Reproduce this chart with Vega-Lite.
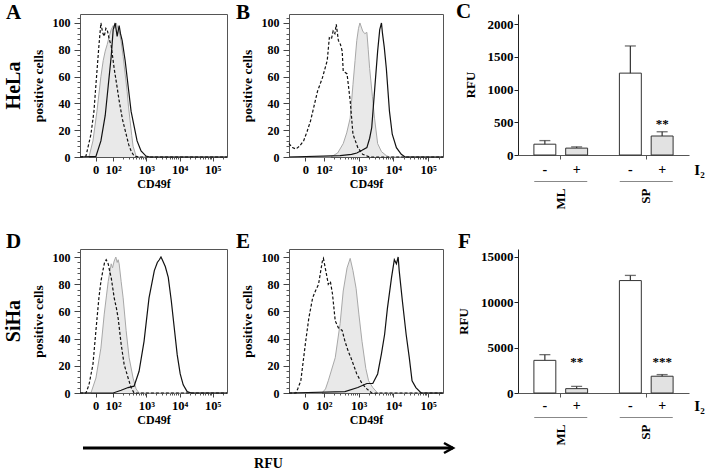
{
"$schema": "https://vega.github.io/schema/vega-lite/v6.json",
"background": "white",
"padding": {"left": 3, "top": 0, "right": 2, "bottom": 0},
"config": {
  "view": {"stroke": null},
  "font": "Liberation Serif",
  "axis": {"labelFont": "Liberation Serif", "titleFont": "Liberation Serif", "labelFontWeight": "bold", "titleFontWeight": "bold", "labelColor": "#000", "titleColor": "#000", "grid": false},
  "title": {"font": "Liberation Serif", "fontSize": 21, "fontWeight": "bold", "color": "#000"},
  "text": {"font": "Liberation Serif"}
},
"datasets": {
  "hela_ml": [
    {"series":"isotype","log_rfu":1.0,"pct":0},{"series":"isotype","log_rfu":1.18,"pct":0.7},{"series":"isotype","log_rfu":1.33,"pct":17},{"series":"isotype","log_rfu":1.42,"pct":34},{"series":"isotype","log_rfu":1.48,"pct":54},{"series":"isotype","log_rfu":1.57,"pct":83},{"series":"isotype","log_rfu":1.63,"pct":100},{"series":"isotype","log_rfu":1.68,"pct":93},{"series":"isotype","log_rfu":1.73,"pct":90},{"series":"isotype","log_rfu":1.78,"pct":96},{"series":"isotype","log_rfu":1.82,"pct":95},{"series":"isotype","log_rfu":1.88,"pct":88},{"series":"isotype","log_rfu":1.94,"pct":83},{"series":"isotype","log_rfu":2.03,"pct":66},{"series":"isotype","log_rfu":2.1,"pct":55},{"series":"isotype","log_rfu":2.18,"pct":42},{"series":"isotype","log_rfu":2.28,"pct":28},{"series":"isotype","log_rfu":2.39,"pct":17},{"series":"isotype","log_rfu":2.47,"pct":9},{"series":"isotype","log_rfu":2.54,"pct":4.5},{"series":"isotype","log_rfu":2.63,"pct":0.7},{"series":"isotype","log_rfu":2.8,"pct":0},{"series":"isotype","log_rfu":5.43,"pct":0},
    {"series":"iodine","log_rfu":1.0,"pct":0},{"series":"iodine","log_rfu":1.27,"pct":0},{"series":"iodine","log_rfu":1.39,"pct":12},{"series":"iodine","log_rfu":1.51,"pct":34},{"series":"iodine","log_rfu":1.63,"pct":60},{"series":"iodine","log_rfu":1.7,"pct":72},{"series":"iodine","log_rfu":1.76,"pct":79},{"series":"iodine","log_rfu":1.82,"pct":84},{"series":"iodine","log_rfu":1.88,"pct":90},{"series":"iodine","log_rfu":1.94,"pct":95},{"series":"iodine","log_rfu":2.0,"pct":98},{"series":"iodine","log_rfu":2.05,"pct":96},{"series":"iodine","log_rfu":2.09,"pct":100},{"series":"iodine","log_rfu":2.13,"pct":97},{"series":"iodine","log_rfu":2.18,"pct":94},{"series":"iodine","log_rfu":2.24,"pct":86},{"series":"iodine","log_rfu":2.3,"pct":75},{"series":"iodine","log_rfu":2.36,"pct":62},{"series":"iodine","log_rfu":2.42,"pct":49},{"series":"iodine","log_rfu":2.46,"pct":38},{"series":"iodine","log_rfu":2.51,"pct":27},{"series":"iodine","log_rfu":2.56,"pct":16},{"series":"iodine","log_rfu":2.6,"pct":8},{"series":"iodine","log_rfu":2.69,"pct":0.7},{"series":"iodine","log_rfu":2.8,"pct":0},{"series":"iodine","log_rfu":5.43,"pct":0},
    {"series":"untreated","log_rfu":1.0,"pct":0},{"series":"untreated","log_rfu":1.48,"pct":0.5},{"series":"untreated","log_rfu":1.63,"pct":12},{"series":"untreated","log_rfu":1.76,"pct":31},{"series":"untreated","log_rfu":1.85,"pct":53},{"series":"untreated","log_rfu":1.94,"pct":75},{"series":"untreated","log_rfu":2.0,"pct":95},{"series":"untreated","log_rfu":2.06,"pct":100},{"series":"untreated","log_rfu":2.12,"pct":90},{"series":"untreated","log_rfu":2.18,"pct":98},{"series":"untreated","log_rfu":2.22,"pct":92},{"series":"untreated","log_rfu":2.27,"pct":87},{"series":"untreated","log_rfu":2.36,"pct":72},{"series":"untreated","log_rfu":2.45,"pct":53},{"series":"untreated","log_rfu":2.54,"pct":34},{"series":"untreated","log_rfu":2.63,"pct":23},{"series":"untreated","log_rfu":2.72,"pct":12},{"series":"untreated","log_rfu":2.84,"pct":4.5},{"series":"untreated","log_rfu":2.99,"pct":0.7},{"series":"untreated","log_rfu":3.1,"pct":0},{"series":"untreated","log_rfu":5.43,"pct":0}
  ],
  "hela_sp": [
    {"series":"isotype","log_rfu":1.0,"pct":10},{"series":"isotype","log_rfu":1.1,"pct":7},{"series":"isotype","log_rfu":1.2,"pct":6},{"series":"isotype","log_rfu":1.3,"pct":8},{"series":"isotype","log_rfu":1.42,"pct":12},{"series":"isotype","log_rfu":1.52,"pct":19},{"series":"isotype","log_rfu":1.62,"pct":27},{"series":"isotype","log_rfu":1.72,"pct":38},{"series":"isotype","log_rfu":1.82,"pct":49},{"series":"isotype","log_rfu":1.96,"pct":59},{"series":"isotype","log_rfu":2.1,"pct":72},{"series":"isotype","log_rfu":2.16,"pct":89},{"series":"isotype","log_rfu":2.22,"pct":88},{"series":"isotype","log_rfu":2.27,"pct":94},{"series":"isotype","log_rfu":2.32,"pct":92},{"series":"isotype","log_rfu":2.36,"pct":99},{"series":"isotype","log_rfu":2.42,"pct":87},{"series":"isotype","log_rfu":2.48,"pct":84},{"series":"isotype","log_rfu":2.53,"pct":79},{"series":"isotype","log_rfu":2.56,"pct":64},{"series":"isotype","log_rfu":2.62,"pct":63},{"series":"isotype","log_rfu":2.67,"pct":62},{"series":"isotype","log_rfu":2.76,"pct":42},{"series":"isotype","log_rfu":2.84,"pct":17},{"series":"isotype","log_rfu":2.98,"pct":7},{"series":"isotype","log_rfu":3.12,"pct":2},{"series":"isotype","log_rfu":3.32,"pct":0},{"series":"isotype","log_rfu":5.43,"pct":0},
    {"series":"iodine","log_rfu":1.0,"pct":0},{"series":"iodine","log_rfu":2.2,"pct":0},{"series":"iodine","log_rfu":2.27,"pct":1},{"series":"iodine","log_rfu":2.4,"pct":3},{"series":"iodine","log_rfu":2.56,"pct":10},{"series":"iodine","log_rfu":2.66,"pct":18},{"series":"iodine","log_rfu":2.76,"pct":29},{"series":"iodine","log_rfu":2.84,"pct":54},{"series":"iodine","log_rfu":2.9,"pct":72},{"series":"iodine","log_rfu":2.95,"pct":87},{"series":"iodine","log_rfu":3.0,"pct":96},{"series":"iodine","log_rfu":3.04,"pct":100},{"series":"iodine","log_rfu":3.08,"pct":97},{"series":"iodine","log_rfu":3.12,"pct":94},{"series":"iodine","log_rfu":3.18,"pct":92},{"series":"iodine","log_rfu":3.24,"pct":93},{"series":"iodine","log_rfu":3.28,"pct":80},{"series":"iodine","log_rfu":3.32,"pct":66},{"series":"iodine","log_rfu":3.4,"pct":45},{"series":"iodine","log_rfu":3.46,"pct":29},{"series":"iodine","log_rfu":3.55,"pct":10},{"series":"iodine","log_rfu":3.66,"pct":4},{"series":"iodine","log_rfu":3.8,"pct":1},{"series":"iodine","log_rfu":3.89,"pct":0},{"series":"iodine","log_rfu":5.43,"pct":0},
    {"series":"untreated","log_rfu":1.0,"pct":0},{"series":"untreated","log_rfu":2.47,"pct":1},{"series":"untreated","log_rfu":2.8,"pct":2},{"series":"untreated","log_rfu":2.95,"pct":3},{"series":"untreated","log_rfu":3.1,"pct":5},{"series":"untreated","log_rfu":3.24,"pct":7},{"series":"untreated","log_rfu":3.32,"pct":14},{"series":"untreated","log_rfu":3.38,"pct":22},{"series":"untreated","log_rfu":3.46,"pct":49},{"series":"untreated","log_rfu":3.55,"pct":79},{"series":"untreated","log_rfu":3.61,"pct":95},{"series":"untreated","log_rfu":3.64,"pct":98},{"series":"untreated","log_rfu":3.66,"pct":100},{"series":"untreated","log_rfu":3.69,"pct":92},{"series":"untreated","log_rfu":3.74,"pct":82},{"series":"untreated","log_rfu":3.8,"pct":66},{"series":"untreated","log_rfu":3.89,"pct":34},{"series":"untreated","log_rfu":3.97,"pct":17},{"series":"untreated","log_rfu":4.09,"pct":7},{"series":"untreated","log_rfu":4.23,"pct":2},{"series":"untreated","log_rfu":4.34,"pct":0},{"series":"untreated","log_rfu":5.43,"pct":0}
  ],
  "siha_ml": [
    {"series":"isotype","log_rfu":1.0,"pct":0},{"series":"isotype","log_rfu":1.18,"pct":0},{"series":"isotype","log_rfu":1.27,"pct":6},{"series":"isotype","log_rfu":1.39,"pct":21},{"series":"isotype","log_rfu":1.48,"pct":46},{"series":"isotype","log_rfu":1.57,"pct":70},{"series":"isotype","log_rfu":1.63,"pct":82},{"series":"isotype","log_rfu":1.69,"pct":90},{"series":"isotype","log_rfu":1.74,"pct":96},{"series":"isotype","log_rfu":1.79,"pct":98},{"series":"isotype","log_rfu":1.85,"pct":95},{"series":"isotype","log_rfu":1.9,"pct":89},{"series":"isotype","log_rfu":1.94,"pct":85},{"series":"isotype","log_rfu":2.03,"pct":70},{"series":"isotype","log_rfu":2.1,"pct":62},{"series":"isotype","log_rfu":2.15,"pct":55},{"series":"isotype","log_rfu":2.24,"pct":36},{"series":"isotype","log_rfu":2.33,"pct":21},{"series":"isotype","log_rfu":2.45,"pct":11},{"series":"isotype","log_rfu":2.54,"pct":4},{"series":"isotype","log_rfu":2.63,"pct":0},{"series":"isotype","log_rfu":5.43,"pct":0},
    {"series":"iodine","log_rfu":1.0,"pct":0},{"series":"iodine","log_rfu":1.33,"pct":0},{"series":"iodine","log_rfu":1.48,"pct":11},{"series":"iodine","log_rfu":1.63,"pct":33},{"series":"iodine","log_rfu":1.73,"pct":58},{"series":"iodine","log_rfu":1.8,"pct":72},{"series":"iodine","log_rfu":1.85,"pct":82},{"series":"iodine","log_rfu":1.94,"pct":95},{"series":"iodine","log_rfu":1.98,"pct":92},{"series":"iodine","log_rfu":2.03,"pct":97},{"series":"iodine","log_rfu":2.08,"pct":100},{"series":"iodine","log_rfu":2.12,"pct":96},{"series":"iodine","log_rfu":2.15,"pct":98},{"series":"iodine","log_rfu":2.18,"pct":95},{"series":"iodine","log_rfu":2.24,"pct":82},{"series":"iodine","log_rfu":2.3,"pct":70},{"series":"iodine","log_rfu":2.39,"pct":46},{"series":"iodine","log_rfu":2.48,"pct":26},{"series":"iodine","log_rfu":2.6,"pct":11},{"series":"iodine","log_rfu":2.69,"pct":3},{"series":"iodine","log_rfu":2.78,"pct":0},{"series":"iodine","log_rfu":5.43,"pct":0},
    {"series":"untreated","log_rfu":1.0,"pct":0},{"series":"untreated","log_rfu":2.0,"pct":0},{"series":"untreated","log_rfu":2.24,"pct":2},{"series":"untreated","log_rfu":2.45,"pct":4},{"series":"untreated","log_rfu":2.63,"pct":5},{"series":"untreated","log_rfu":2.78,"pct":16},{"series":"untreated","log_rfu":2.93,"pct":38},{"series":"untreated","log_rfu":3.08,"pct":70},{"series":"untreated","log_rfu":3.24,"pct":90},{"series":"untreated","log_rfu":3.33,"pct":96},{"series":"untreated","log_rfu":3.39,"pct":98},{"series":"untreated","log_rfu":3.44,"pct":100},{"series":"untreated","log_rfu":3.48,"pct":98},{"series":"untreated","log_rfu":3.57,"pct":93},{"series":"untreated","log_rfu":3.66,"pct":85},{"series":"untreated","log_rfu":3.75,"pct":68},{"series":"untreated","log_rfu":3.84,"pct":48},{"series":"untreated","log_rfu":3.93,"pct":28},{"series":"untreated","log_rfu":4.02,"pct":14},{"series":"untreated","log_rfu":4.11,"pct":6},{"series":"untreated","log_rfu":4.23,"pct":1},{"series":"untreated","log_rfu":4.35,"pct":0},{"series":"untreated","log_rfu":5.43,"pct":0}
  ],
  "siha_sp": [
    {"series":"isotype","log_rfu":1.0,"pct":0},{"series":"isotype","log_rfu":1.2,"pct":0},{"series":"isotype","log_rfu":1.25,"pct":3},{"series":"isotype","log_rfu":1.34,"pct":9},{"series":"isotype","log_rfu":1.48,"pct":38},{"series":"isotype","log_rfu":1.57,"pct":55},{"series":"isotype","log_rfu":1.68,"pct":70},{"series":"isotype","log_rfu":1.76,"pct":75},{"series":"isotype","log_rfu":1.85,"pct":80},{"series":"isotype","log_rfu":1.96,"pct":97},{"series":"isotype","log_rfu":1.99,"pct":99},{"series":"isotype","log_rfu":2.08,"pct":87},{"series":"isotype","log_rfu":2.13,"pct":80},{"series":"isotype","log_rfu":2.19,"pct":82},{"series":"isotype","log_rfu":2.25,"pct":73},{"series":"isotype","log_rfu":2.33,"pct":53},{"series":"isotype","log_rfu":2.42,"pct":48},{"series":"isotype","log_rfu":2.53,"pct":46},{"series":"isotype","log_rfu":2.61,"pct":38},{"series":"isotype","log_rfu":2.7,"pct":31},{"series":"isotype","log_rfu":2.81,"pct":24},{"series":"isotype","log_rfu":2.95,"pct":14},{"series":"isotype","log_rfu":3.1,"pct":7},{"series":"isotype","log_rfu":3.24,"pct":3},{"series":"isotype","log_rfu":3.38,"pct":0},{"series":"isotype","log_rfu":5.43,"pct":0},
    {"series":"iodine","log_rfu":1.0,"pct":0},{"series":"iodine","log_rfu":1.95,"pct":0},{"series":"iodine","log_rfu":2.05,"pct":3},{"series":"iodine","log_rfu":2.13,"pct":9},{"series":"iodine","log_rfu":2.33,"pct":26},{"series":"iodine","log_rfu":2.47,"pct":51},{"series":"iodine","log_rfu":2.56,"pct":75},{"series":"iodine","log_rfu":2.67,"pct":92},{"series":"iodine","log_rfu":2.76,"pct":99},{"series":"iodine","log_rfu":2.84,"pct":90},{"series":"iodine","log_rfu":2.93,"pct":77},{"series":"iodine","log_rfu":3.01,"pct":58},{"series":"iodine","log_rfu":3.1,"pct":38},{"series":"iodine","log_rfu":3.21,"pct":18},{"series":"iodine","log_rfu":3.29,"pct":9},{"series":"iodine","log_rfu":3.41,"pct":4},{"series":"iodine","log_rfu":3.55,"pct":0},{"series":"iodine","log_rfu":5.43,"pct":0},
    {"series":"untreated","log_rfu":1.0,"pct":0},{"series":"untreated","log_rfu":2.61,"pct":1},{"series":"untreated","log_rfu":2.98,"pct":4},{"series":"untreated","log_rfu":3.24,"pct":7},{"series":"untreated","log_rfu":3.41,"pct":7},{"series":"untreated","log_rfu":3.55,"pct":14},{"series":"untreated","log_rfu":3.66,"pct":29},{"series":"untreated","log_rfu":3.75,"pct":43},{"series":"untreated","log_rfu":3.83,"pct":62},{"series":"untreated","log_rfu":3.95,"pct":85},{"series":"untreated","log_rfu":4.03,"pct":98},{"series":"untreated","log_rfu":4.09,"pct":95},{"series":"untreated","log_rfu":4.14,"pct":100},{"series":"untreated","log_rfu":4.17,"pct":90},{"series":"untreated","log_rfu":4.26,"pct":68},{"series":"untreated","log_rfu":4.37,"pct":43},{"series":"untreated","log_rfu":4.46,"pct":26},{"series":"untreated","log_rfu":4.54,"pct":9},{"series":"untreated","log_rfu":4.65,"pct":4},{"series":"untreated","log_rfu":4.8,"pct":0},{"series":"untreated","log_rfu":5.43,"pct":0}
  ],
  "bars_hela": [
    {"group":"ML","treat":"-","rfu":165,"upper":220,"sig":""},
    {"group":"ML","treat":"+","rfu":105,"upper":125,"sig":""},
    {"group":"SP","treat":"-","rfu":1250,"upper":1665,"sig":""},
    {"group":"SP","treat":"+","rfu":290,"upper":355,"sig":"**"}
  ],
  "bars_siha": [
    {"group":"ML","treat":"-","rfu":3600,"upper":4230,"sig":""},
    {"group":"ML","treat":"+","rfu":480,"upper":730,"sig":"**"},
    {"group":"SP","treat":"-","rfu":12400,"upper":12970,"sig":""},
    {"group":"SP","treat":"+","rfu":1850,"upper":2030,"sig":"***"}
  ]
},
"columns": 4,
"bounds": "flush",
"spacing": {"row": 24, "column": 62},
"concat": [
  {"width": 9, "height": 143, "data": {"values": [{"cell_line": "HeLa"}]}, "mark": {"type": "text", "angle": 270, "fontSize": 20, "fontWeight": "bold", "baseline": "middle", "align": "center", "color": "#000"}, "encoding": {"text": {"field": "cell_line"}}},
  {
    "width": 147, "height": 143,
    "view": {"stroke": "#555", "strokeWidth": 1},
    "title": {"text": "A", "anchor": "start", "frame": "group", "dx": -74, "offset": -8.9},
    "data": {"name": "hela_ml"},
    "encoding": {
      "x": {"field": "log_rfu", "type": "quantitative", "scale": {"domain": [1.0, 5.43], "nice": false, "zero": false}, "axis": {"values": [1.47, 2, 3, 4, 5], "labelExpr": "datum.value < 1.9 ? '0' : datum.value < 2.5 ? '10²' : datum.value < 3.5 ? '10³' : datum.value < 4.5 ? '10⁴' : '10⁵'", "title": "CD49f", "domain": false, "tickSize": 4, "tickColor": "#444", "labelPadding": 2, "labelFontSize": 12.5, "titleFontSize": 12, "titlePadding": 3, "labelOverlap": false, "labelBound": false}},
      "y": {"field": "pct", "type": "quantitative", "scale": {"domain": [0, 106.7], "nice": false}, "axis": {"values": [0, 20, 40, 60, 80, 100], "title": "positive cells", "domain": false, "tickSize": 6, "tickColor": "#444", "labelPadding": 4, "labelFontSize": 12, "titleFontSize": 13.5, "titlePadding": 7}}
    },
    "layer": [
      {"transform": [{"filter": "datum.series == 'iodine'"}], "mark": {"type": "area", "color": "#e0e0e0", "line": {"color": "#a8a8a8", "strokeWidth": 1}}},
      {"transform": [{"filter": "datum.series == 'isotype'"}], "mark": {"type": "line", "color": "#111", "strokeWidth": 1.2, "strokeDash": [3, 2]},
       "encoding": {"x": {"field": "log_rfu", "type": "quantitative", "scale": {"domain": [1.0, 5.43], "nice": false, "zero": false}, "axis": {"orient": "bottom", "values": [2.301,2.477,2.602,2.699,2.778,2.845,2.903,2.954,3.301,3.477,3.602,3.699,3.778,3.845,3.903,3.954,4.301,4.477,4.602,4.699,4.778,4.845,4.903,4.954,5.301], "labels": false, "title": null, "domain": false, "tickSize": 2, "tickColor": "#555"}},
                    "y": {"field": "pct", "type": "quantitative", "scale": {"domain": [0, 106.7], "nice": false}, "axis": {"orient": "left", "values": [4,8,12,16,24,28,32,36,44,48,52,56,64,68,72,76,84,88,92,96,104], "labels": false, "title": null, "domain": false, "tickSize": 3, "tickColor": "#555"}}}},
      {"transform": [{"filter": "datum.series == 'untreated'"}], "mark": {"type": "line", "color": "#111", "strokeWidth": 1.2},
       "encoding": {"x": {"field": "log_rfu", "type": "quantitative", "axis": null}, "y": {"field": "pct", "type": "quantitative", "axis": null}}}
    ],
    "resolve": {"axis": {"x": "independent", "y": "independent"}}
  },
  {
    "width": 154, "height": 143,
    "view": {"stroke": "#555", "strokeWidth": 1},
    "title": {"text": "B", "anchor": "start", "frame": "group", "dx": -53, "offset": -8.9},
    "data": {"name": "hela_sp"},
    "encoding": {
      "x": {"field": "log_rfu", "type": "quantitative", "scale": {"domain": [1.0, 5.43], "nice": false, "zero": false}, "axis": {"values": [1.47, 2, 3, 4, 5], "labelExpr": "datum.value < 1.9 ? '0' : datum.value < 2.5 ? '10²' : datum.value < 3.5 ? '10³' : datum.value < 4.5 ? '10⁴' : '10⁵'", "title": "CD49f", "domain": false, "tickSize": 4, "tickColor": "#444", "labelPadding": 2, "labelFontSize": 12.5, "titleFontSize": 12, "titlePadding": 3, "labelOverlap": false, "labelBound": false}},
      "y": {"field": "pct", "type": "quantitative", "scale": {"domain": [0, 106.7], "nice": false}, "axis": {"values": [0, 20, 40, 60, 80, 100], "title": "positive cells", "domain": false, "tickSize": 6, "tickColor": "#444", "labelPadding": 4, "labelFontSize": 12, "titleFontSize": 13.5, "titlePadding": 7}}
    },
    "layer": [
      {"transform": [{"filter": "datum.series == 'iodine'"}], "mark": {"type": "area", "color": "#e0e0e0", "line": {"color": "#a8a8a8", "strokeWidth": 1}}},
      {"transform": [{"filter": "datum.series == 'isotype'"}], "mark": {"type": "line", "color": "#111", "strokeWidth": 1.2, "strokeDash": [3, 2]},
       "encoding": {"x": {"field": "log_rfu", "type": "quantitative", "scale": {"domain": [1.0, 5.43], "nice": false, "zero": false}, "axis": {"orient": "bottom", "values": [2.301,2.477,2.602,2.699,2.778,2.845,2.903,2.954,3.301,3.477,3.602,3.699,3.778,3.845,3.903,3.954,4.301,4.477,4.602,4.699,4.778,4.845,4.903,4.954,5.301], "labels": false, "title": null, "domain": false, "tickSize": 2, "tickColor": "#555"}},
                    "y": {"field": "pct", "type": "quantitative", "scale": {"domain": [0, 106.7], "nice": false}, "axis": {"orient": "left", "values": [4,8,12,16,24,28,32,36,44,48,52,56,64,68,72,76,84,88,92,96,104], "labels": false, "title": null, "domain": false, "tickSize": 3, "tickColor": "#555"}}}},
      {"transform": [{"filter": "datum.series == 'untreated'"}], "mark": {"type": "line", "color": "#111", "strokeWidth": 1.2},
       "encoding": {"x": {"field": "log_rfu", "type": "quantitative", "axis": null}, "y": {"field": "pct", "type": "quantitative", "axis": null}}}
    ],
    "resolve": {"axis": {"x": "independent", "y": "independent"}}
  },
  {
    "width": 171, "height": 141,
    "title": {"text": "C", "anchor": "start", "frame": "group", "dx": -62, "offset": -7.9},
    "data": {"name": "bars_hela"},
    "encoding": {
      "x": {"field": "group", "type": "nominal", "sort": ["ML", "SP"], "scale": {"paddingInner": 0, "paddingOuter": 0}, "axis": {"labels": false, "title": null, "domainColor": "#555", "tickColor": "#555", "tickSize": 4}},
      "xOffset": {"field": "treat", "type": "nominal", "sort": ["-", "+"], "scale": {"paddingInner": 0.31, "paddingOuter": 0.5}}
    },
    "layer": [
      {"mark": {"type": "bar", "stroke": "#333", "strokeWidth": 1}, "encoding": {"y": {"field": "rfu", "type": "quantitative", "title": "RFU", "scale": {"domain": [0, 2153], "nice": false}, "axis": {"values": [0, 500, 1000, 1500, 2000], "format": "d", "labelOverlap": false, "domainColor": "#222", "tickColor": "#222", "tickSize": 4, "labelPadding": 1, "titlePadding": 10, "labelFontSize": 13, "titleFontSize": 13}}, "color": {"field": "treat", "type": "nominal", "scale": {"domain": ["-", "+"], "range": ["#ffffff", "#e2e2e2"]}, "legend": null}}},
      {"mark": {"type": "rule", "color": "#333", "strokeWidth": 1.2}, "encoding": {"y": {"field": "rfu", "type": "quantitative", "title": "RFU", "scale": {"domain": [0, 2153], "nice": false}, "axis": {"values": [0, 500, 1000, 1500, 2000], "format": "d", "labelOverlap": false, "domainColor": "#222", "tickColor": "#222", "tickSize": 4, "labelPadding": 1, "titlePadding": 10, "labelFontSize": 13, "titleFontSize": 13}}, "y2": {"field": "upper"}}},
      {"mark": {"type": "tick", "orient": "horizontal", "size": 11, "thickness": 1.3, "color": "#333"}, "encoding": {"y": {"field": "upper", "type": "quantitative", "title": "RFU", "scale": {"domain": [0, 2153], "nice": false}, "axis": {"values": [0, 500, 1000, 1500, 2000], "format": "d", "labelOverlap": false, "domainColor": "#222", "tickColor": "#222", "tickSize": 4, "labelPadding": 1, "titlePadding": 10, "labelFontSize": 13, "titleFontSize": 13}}}},
      {"transform": [{"filter": "datum.treat == '+'"}, {"joinaggregate": [{"op": "max", "field": "upper", "as": "star_base"}]}, {"filter": "datum.sig != ''"}], "mark": {"type": "text", "fontSize": 13, "fontWeight": "bold", "baseline": "alphabetic", "dy": -4, "color": "#000"}, "encoding": {"y": {"field": "star_base", "type": "quantitative", "title": "RFU", "scale": {"domain": [0, 2153], "nice": false}, "axis": {"values": [0, 500, 1000, 1500, 2000], "format": "d", "labelOverlap": false, "domainColor": "#222", "tickColor": "#222", "tickSize": 4, "labelPadding": 1, "titlePadding": 10, "labelFontSize": 13, "titleFontSize": 13}}, "text": {"field": "sig"}}}
    ]
  },
  {"width": 9, "height": 44, "data": {"values": []}, "mark": "point", "encoding": {}},
  {"width": 1, "height": 1, "data": {"values": []}, "mark": "point", "encoding": {}},
  {"width": 167, "height": 1, "data": {"values": []}, "mark": "point", "encoding": {}},
  {
    "width": 171, "height": 1,
    "title": {"text": "I₂", "orient": "right", "angle": 0, "align": "left", "baseline": "middle", "anchor": "middle", "frame": "group", "offset": -5, "dy": -12, "fontSize": 15},
    "data": {"name": "bars_hela"},
    "encoding": {
      "x": {"field": "group", "type": "nominal", "sort": ["ML", "SP"], "scale": {"paddingInner": 0, "paddingOuter": 0}, "axis": {"title": null, "domain": false, "ticks": false, "labelAngle": 270, "labelPadding": 6, "labelFontSize": 13}}
    },
    "layer": [
      {"transform": [{"filter": "datum.treat == '-'"}], "mark": {"type": "bar", "color": "#888", "width": {"band": 0.62}}},
      {"mark": {"type": "text", "fontSize": 14, "fontWeight": "bold", "dy": -12, "baseline": "middle", "color": "#000"}, "encoding": {"xOffset": {"field": "treat", "type": "nominal", "sort": ["-", "+"], "scale": {"paddingInner": 0.31, "paddingOuter": 0.5}}, "text": {"field": "treat"}}}
    ]
  },
  {"width": 9, "height": 144, "data": {"values": [{"cell_line": "SiHa"}]}, "mark": {"type": "text", "angle": 270, "fontSize": 20, "fontWeight": "bold", "baseline": "middle", "align": "center", "color": "#000"}, "encoding": {"text": {"field": "cell_line"}}},
  {
    "width": 147, "height": 144,
    "view": {"stroke": "#555", "strokeWidth": 1},
    "title": {"text": "D", "anchor": "start", "frame": "group", "dx": -74, "offset": -3.4},
    "data": {"name": "siha_ml"},
    "encoding": {
      "x": {"field": "log_rfu", "type": "quantitative", "scale": {"domain": [1.0, 5.43], "nice": false, "zero": false}, "axis": {"values": [1.47, 2, 3, 4, 5], "labelExpr": "datum.value < 1.9 ? '0' : datum.value < 2.5 ? '10²' : datum.value < 3.5 ? '10³' : datum.value < 4.5 ? '10⁴' : '10⁵'", "title": "CD49f", "domain": false, "tickSize": 4, "tickColor": "#444", "labelPadding": 2, "labelFontSize": 12.5, "titleFontSize": 12, "titlePadding": 3, "labelOverlap": false, "labelBound": false}},
      "y": {"field": "pct", "type": "quantitative", "scale": {"domain": [0, 105.9], "nice": false}, "axis": {"values": [0, 20, 40, 60, 80, 100], "title": "positive cells", "domain": false, "tickSize": 6, "tickColor": "#444", "labelPadding": 4, "labelFontSize": 12, "titleFontSize": 13.5, "titlePadding": 7}}
    },
    "layer": [
      {"transform": [{"filter": "datum.series == 'iodine'"}], "mark": {"type": "area", "color": "#e0e0e0", "line": {"color": "#a8a8a8", "strokeWidth": 1}}},
      {"transform": [{"filter": "datum.series == 'isotype'"}], "mark": {"type": "line", "color": "#111", "strokeWidth": 1.2, "strokeDash": [3, 2]},
       "encoding": {"x": {"field": "log_rfu", "type": "quantitative", "scale": {"domain": [1.0, 5.43], "nice": false, "zero": false}, "axis": {"orient": "bottom", "values": [2.301,2.477,2.602,2.699,2.778,2.845,2.903,2.954,3.301,3.477,3.602,3.699,3.778,3.845,3.903,3.954,4.301,4.477,4.602,4.699,4.778,4.845,4.903,4.954,5.301], "labels": false, "title": null, "domain": false, "tickSize": 2, "tickColor": "#555"}},
                    "y": {"field": "pct", "type": "quantitative", "scale": {"domain": [0, 105.9], "nice": false}, "axis": {"orient": "left", "values": [4,8,12,16,24,28,32,36,44,48,52,56,64,68,72,76,84,88,92,96,104], "labels": false, "title": null, "domain": false, "tickSize": 3, "tickColor": "#555"}}}},
      {"transform": [{"filter": "datum.series == 'untreated'"}], "mark": {"type": "line", "color": "#111", "strokeWidth": 1.2},
       "encoding": {"x": {"field": "log_rfu", "type": "quantitative", "axis": null}, "y": {"field": "pct", "type": "quantitative", "axis": null}}}
    ],
    "resolve": {"axis": {"x": "independent", "y": "independent"}}
  },
  {
    "width": 154, "height": 144,
    "view": {"stroke": "#555", "strokeWidth": 1},
    "title": {"text": "E", "anchor": "start", "frame": "group", "dx": -53, "offset": -3.4},
    "data": {"name": "siha_sp"},
    "encoding": {
      "x": {"field": "log_rfu", "type": "quantitative", "scale": {"domain": [1.0, 5.43], "nice": false, "zero": false}, "axis": {"values": [1.47, 2, 3, 4, 5], "labelExpr": "datum.value < 1.9 ? '0' : datum.value < 2.5 ? '10²' : datum.value < 3.5 ? '10³' : datum.value < 4.5 ? '10⁴' : '10⁵'", "title": "CD49f", "domain": false, "tickSize": 4, "tickColor": "#444", "labelPadding": 2, "labelFontSize": 12.5, "titleFontSize": 12, "titlePadding": 3, "labelOverlap": false, "labelBound": false}},
      "y": {"field": "pct", "type": "quantitative", "scale": {"domain": [0, 105.9], "nice": false}, "axis": {"values": [0, 20, 40, 60, 80, 100], "title": "positive cells", "domain": false, "tickSize": 6, "tickColor": "#444", "labelPadding": 4, "labelFontSize": 12, "titleFontSize": 13.5, "titlePadding": 7}}
    },
    "layer": [
      {"transform": [{"filter": "datum.series == 'iodine'"}], "mark": {"type": "area", "color": "#e0e0e0", "line": {"color": "#a8a8a8", "strokeWidth": 1}}},
      {"transform": [{"filter": "datum.series == 'isotype'"}], "mark": {"type": "line", "color": "#111", "strokeWidth": 1.2, "strokeDash": [3, 2]},
       "encoding": {"x": {"field": "log_rfu", "type": "quantitative", "scale": {"domain": [1.0, 5.43], "nice": false, "zero": false}, "axis": {"orient": "bottom", "values": [2.301,2.477,2.602,2.699,2.778,2.845,2.903,2.954,3.301,3.477,3.602,3.699,3.778,3.845,3.903,3.954,4.301,4.477,4.602,4.699,4.778,4.845,4.903,4.954,5.301], "labels": false, "title": null, "domain": false, "tickSize": 2, "tickColor": "#555"}},
                    "y": {"field": "pct", "type": "quantitative", "scale": {"domain": [0, 105.9], "nice": false}, "axis": {"orient": "left", "values": [4,8,12,16,24,28,32,36,44,48,52,56,64,68,72,76,84,88,92,96,104], "labels": false, "title": null, "domain": false, "tickSize": 3, "tickColor": "#555"}}}},
      {"transform": [{"filter": "datum.series == 'untreated'"}], "mark": {"type": "line", "color": "#111", "strokeWidth": 1.2},
       "encoding": {"x": {"field": "log_rfu", "type": "quantitative", "axis": null}, "y": {"field": "pct", "type": "quantitative", "axis": null}}}
    ],
    "resolve": {"axis": {"x": "independent", "y": "independent"}}
  },
  {
    "width": 171, "height": 144,
    "title": {"text": "F", "anchor": "start", "frame": "group", "dx": -60, "offset": -3.4},
    "data": {"name": "bars_siha"},
    "encoding": {
      "x": {"field": "group", "type": "nominal", "sort": ["ML", "SP"], "scale": {"paddingInner": 0, "paddingOuter": 0}, "axis": {"labels": false, "title": null, "domainColor": "#555", "tickColor": "#555", "tickSize": 4}},
      "xOffset": {"field": "treat", "type": "nominal", "sort": ["-", "+"], "scale": {"paddingInner": 0.31, "paddingOuter": 0.5}}
    },
    "layer": [
      {"mark": {"type": "bar", "stroke": "#333", "strokeWidth": 1}, "encoding": {"y": {"field": "rfu", "type": "quantitative", "title": "RFU", "scale": {"domain": [0, 15882], "nice": false}, "axis": {"values": [0, 5000, 10000, 15000], "format": "d", "labelOverlap": false, "domainColor": "#222", "tickColor": "#222", "tickSize": 4, "labelPadding": 1, "titlePadding": 10, "labelFontSize": 13, "titleFontSize": 13}}, "color": {"field": "treat", "type": "nominal", "scale": {"domain": ["-", "+"], "range": ["#ffffff", "#e2e2e2"]}, "legend": null}}},
      {"mark": {"type": "rule", "color": "#333", "strokeWidth": 1.2}, "encoding": {"y": {"field": "rfu", "type": "quantitative", "title": "RFU", "scale": {"domain": [0, 15882], "nice": false}, "axis": {"values": [0, 5000, 10000, 15000], "format": "d", "labelOverlap": false, "domainColor": "#222", "tickColor": "#222", "tickSize": 4, "labelPadding": 1, "titlePadding": 10, "labelFontSize": 13, "titleFontSize": 13}}, "y2": {"field": "upper"}}},
      {"mark": {"type": "tick", "orient": "horizontal", "size": 11, "thickness": 1.3, "color": "#333"}, "encoding": {"y": {"field": "upper", "type": "quantitative", "title": "RFU", "scale": {"domain": [0, 15882], "nice": false}, "axis": {"values": [0, 5000, 10000, 15000], "format": "d", "labelOverlap": false, "domainColor": "#222", "tickColor": "#222", "tickSize": 4, "labelPadding": 1, "titlePadding": 10, "labelFontSize": 13, "titleFontSize": 13}}}},
      {"transform": [{"filter": "datum.treat == '+'"}, {"joinaggregate": [{"op": "max", "field": "upper", "as": "star_base"}]}, {"filter": "datum.sig != ''"}], "mark": {"type": "text", "fontSize": 13, "fontWeight": "bold", "baseline": "alphabetic", "dy": -9, "color": "#000"}, "encoding": {"y": {"field": "star_base", "type": "quantitative", "title": "RFU", "scale": {"domain": [0, 15882], "nice": false}, "axis": {"values": [0, 5000, 10000, 15000], "format": "d", "labelOverlap": false, "domainColor": "#222", "tickColor": "#222", "tickSize": 4, "labelPadding": 1, "titlePadding": 10, "labelFontSize": 13, "titleFontSize": 13}}, "text": {"field": "sig"}}}
    ]
  },
  {"width": 1, "height": 1, "data": {"values": []}, "mark": "point", "encoding": {}},
  {"width": 1, "height": 1, "data": {"values": []}, "mark": "point", "encoding": {}},
  {"width": 1, "height": 1, "data": {"values": []}, "mark": "point", "encoding": {}},
  {
    "width": 171, "height": 1,
    "title": {"text": "I₂", "orient": "right", "angle": 0, "align": "left", "baseline": "middle", "anchor": "middle", "frame": "group", "offset": -5, "dy": -12, "fontSize": 15},
    "data": {"name": "bars_siha"},
    "encoding": {
      "x": {"field": "group", "type": "nominal", "sort": ["ML", "SP"], "scale": {"paddingInner": 0, "paddingOuter": 0}, "axis": {"title": null, "domain": false, "ticks": false, "labelAngle": 270, "labelPadding": 6, "labelFontSize": 13}}
    },
    "layer": [
      {"transform": [{"filter": "datum.treat == '-'"}], "mark": {"type": "bar", "color": "#888", "width": {"band": 0.62}}},
      {"mark": {"type": "text", "fontSize": 14, "fontWeight": "bold", "dy": -12, "baseline": "middle", "color": "#000"}, "encoding": {"xOffset": {"field": "treat", "type": "nominal", "sort": ["-", "+"], "scale": {"paddingInner": 0.31, "paddingOuter": 0.5}}, "text": {"field": "treat"}}}
    ]
  },
  {"width": 1, "height": 1, "data": {"values": []}, "mark": "point", "encoding": {}},
  {
    "width": 147, "height": 12,
    "data": {"values": [{"level": "low"}, {"level": "high"}]},
    "encoding": {"x": {"field": "level", "type": "ordinal", "scale": {"type": "point", "domain": ["low", "high"], "range": [3, 373], "padding": 0}, "axis": {"title": "RFU", "labels": false, "ticks": false, "domain": false, "titleFontSize": 14, "titlePadding": 2}}},
    "layer": [
      {"mark": {"type": "line", "color": "#000", "strokeWidth": 3}},
      {"transform": [{"filter": "datum.level == 'high'"}], "mark": {"type": "point", "shape": "M-1.8,-1L0,0L-1.8,1", "size": 100, "filled": false, "color": "#000", "strokeWidth": 2.5, "opacity": 1}}
    ]
  }
]
}
